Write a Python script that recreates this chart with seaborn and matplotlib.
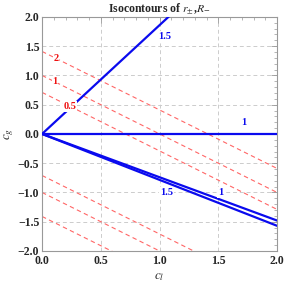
import numpy as np
import pandas as pd
import seaborn as sns
import matplotlib.pyplot as plt
from matplotlib.ticker import MultipleLocator

sns.set_style("white")
plt.rcParams['font.family'] = ['Liberation Serif', 'DejaVu Serif']
plt.rcParams['mathtext.fontset'] = 'stix'

# red dashed isocontours (c_g value where each line meets c_l = 0, slope -1)
red_labels = ["2", "1", "0.5"]
red_c0 = [1.41, 1.0, 0.71]
red_label_x = [0.12, 0.11, 0.24]

# blue isocontours through the origin: c_g at c_l = 2
blue_labels = ["1.5", "1", "1", "1.5"]
blue_end = [3.72, 0.0, -1.48, -1.57]
blue_label_pos = [(1.04, 1.67), (1.72, 0.19), (1.52, -1.0), (1.06, -1.0)]

fig = plt.figure(figsize=(2.92, 2.82), dpi=100)
ax = fig.add_axes([0.144, 0.110, 0.805, 0.830])

# red dashed lines, both signs
for c0 in red_c0:
    for s in [1, -1]:
        df = pd.DataFrame({"cl": [0.0, 4.0], "cg": [s * c0, s * c0 - 4.0]})
        sns.lineplot(data=df, x="cl", y="cg", ax=ax, color="#ff6666",
                     lw=0.8, linestyle=(0, (4, 3)), zorder=2)

for c0, lab, lx in zip(red_c0, red_labels, red_label_x):
    ax.text(lx, c0 - lx, lab, color="#ee1111", fontsize=7.5, fontweight="bold",
            ha="center", va="center", zorder=4,
            bbox=dict(facecolor="white", edgecolor="none", pad=0.5))

for yend in blue_end:
    df = pd.DataFrame({"cl": [0.0, 2.0], "cg": [0.0, yend]})
    sns.lineplot(data=df, x="cl", y="cg", ax=ax, color="#0a0aee",
                 lw=1.6, zorder=3)

for lab, (lx, ly) in zip(blue_labels, blue_label_pos):
    ax.text(lx, ly, lab, color="#0a0aee", fontsize=7.5, fontweight="bold",
            ha="center", va="center", zorder=5,
            bbox=dict(facecolor="white", edgecolor="none", pad=0.5))

ax.set_xlim(0, 2)
ax.set_ylim(-2, 2)
ax.xaxis.set_major_locator(MultipleLocator(0.5))
ax.yaxis.set_major_locator(MultipleLocator(0.5))
ax.xaxis.set_minor_locator(MultipleLocator(0.1))
ax.yaxis.set_minor_locator(MultipleLocator(0.1))
ax.grid(True, which="major", color="#cccccc", linestyle=(0, (4, 3)), lw=0.7)
ax.set_axisbelow(True)
ax.tick_params(which="both", direction="in", top=True, right=True,
               color="#999999", labelsize=8.5)
ax.tick_params(axis="x", pad=3)
ax.tick_params(axis="y", pad=2)
ax.tick_params(which="major", length=4, width=0.6)
ax.tick_params(which="minor", length=2, width=0.5)
for lab in ax.get_xticklabels() + ax.get_yticklabels():
    lab.set_fontweight("bold")
ax.xaxis.set_major_formatter(plt.FuncFormatter(lambda v, p: f"{v:.1f}".replace("-", "\u2212")))
ax.yaxis.set_major_formatter(plt.FuncFormatter(lambda v, p: f"{v:.1f}".replace("-", "\u2212")))
for sp in ax.spines.values():
    sp.set_color("#999999")
    sp.set_linewidth(0.8)

ax.set_xlabel("$c_l$", fontsize=9.5, labelpad=3)
ax.set_ylabel("$c_g$", fontsize=9.5, labelpad=1)
ax.set_title("Isocontours of $r_{\\pm}$,$R_{-}$", fontsize=8.5, fontweight="bold", pad=3)

fig.savefig("out.png", dpi=100)
